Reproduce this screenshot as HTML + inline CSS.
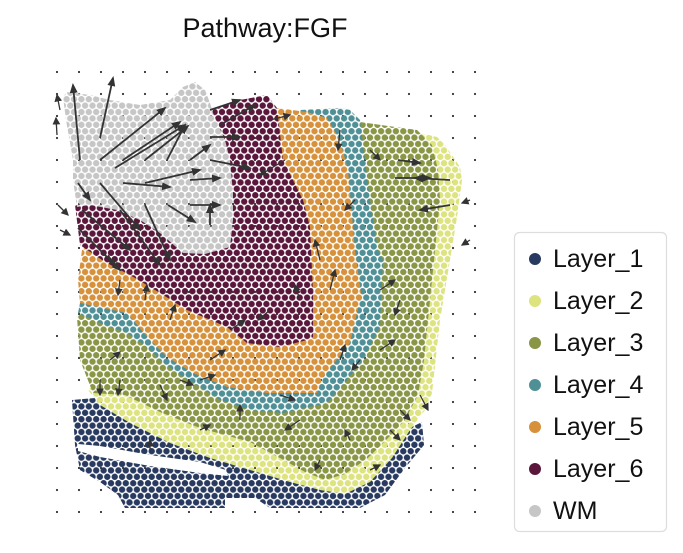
<!DOCTYPE html>
<html><head><meta charset="utf-8"><style>
html,body{margin:0;padding:0;background:#fff;}
svg{display:block;font-family:"Liberation Sans",Arial,sans-serif;}
</style></head><body>
<svg width="683" height="553" viewBox="0 0 683 553" xmlns="http://www.w3.org/2000/svg">
<defs>
<pattern id="grid" patternUnits="userSpaceOnUse" x="46" y="61" width="22" height="22">
<circle cx="11" cy="11" r="1.1" fill="#333"/>
</pattern>
<pattern id="hex" patternUnits="userSpaceOnUse" x="0" y="0" width="7.4" height="12.8">
<rect width="7.4" height="12.8" fill="#000"/>
<circle cx="3.7" cy="3.2" r="3.2" fill="#fff"/>
<circle cx="0" cy="9.6" r="3.2" fill="#fff"/>
<circle cx="7.4" cy="9.6" r="3.2" fill="#fff"/>
</pattern>
<mask id="dots"><rect width="683" height="553" fill="url(#hex)"/></mask>
<marker id="ah" markerWidth="6" markerHeight="6" refX="5" refY="3" orient="auto" markerUnits="strokeWidth">
<path d="M0,0 L6,3 L0,6 z" fill="#333"/>
</marker>
<marker id="ah2" markerWidth="10" markerHeight="8" refX="8" refY="4" orient="auto" markerUnits="userSpaceOnUse">
<path d="M0,0 L10,4 L0,8 z" fill="#333"/>
</marker>
</defs>

<text x="265" y="37" font-size="27" text-anchor="middle" fill="#111">Pathway:FGF</text>

<rect x="46" y="61" width="440" height="460" fill="url(#grid)"/>

<g mask="url(#dots)">
<polygon fill="#283a5f" points="72,400 95,398 120,405 160,425 200,440 240,455 280,468 310,478 345,482 370,470 392,450 410,428 422,422 424,445 405,468 385,495 360,508 270,508 255,498 225,498 225,508 125,508 118,495 100,482 80,470 75,445"/>
<polygon fill="#dde37e" points="88,390 100,405 130,423 170,443 210,458 250,470 290,482 320,490 345,494 370,482 392,458 410,430 425,410 432,393 440,320 450,260 457,217 462,180 460,167 445,145 437,137 400,128 360,123"/>
<polygon fill="#8a9645" points="77,317 80,360 93,393 125,395 160,412 200,428 250,442 280,458 305,472 325,480 345,474 368,458 388,438 405,420 418,395 424,360 428,320 432,280 436,240 440,200 438,170 432,145 417,130 360,122 340,122 300,200 200,300 100,300"/>
<polygon fill="#4f9097" points="80,303 78,313 100,323 127,333 147,347 160,360 177,373 200,387 220,400 250,410 283,413 327,403 347,380 363,360 380,327 383,260 378,250 370,200 360,120 350,110 340,108 300,110 200,200"/>
<polygon fill="#d6913a" points="277,108 307,112 327,118 340,140 348,170 355,250 362,300 360,300 350,343 323,377 317,393 267,393 227,387 193,373 167,357 150,340 127,313 80,303 78,280 82,250 95,240 150,250 220,230"/>
<polygon fill="#5a173b" points="213,110 240,100 267,95 277,108 283,160 303,200 310,227 313,293 313,337 307,340 280,347 247,343 227,327 187,310 160,293 130,275 105,262 80,245 75,205 120,200 180,240"/>
<polygon fill="#c6c6c6" points="63,97 67,92 90,95 110,100 140,105 170,100 183,87 195,82 205,90 210,103 213,113 225,140 230,160 233,193 233,220 230,247 205,254 183,253 160,233 140,220 117,210 90,205 77,207 73,180 73,160 66,120"/>
</g>
<polygon fill="#fff" points="78,444 100,446 150,455 200,462 226,470 228,476 200,473 150,466 100,457 78,451"/>

<g stroke="#333" stroke-width="1.8" fill="none" marker-end="url(#ah2)">
<line x1="80" y1="160" x2="73" y2="85"/>
<line x1="100" y1="138" x2="113" y2="78"/>
<line x1="100" y1="160" x2="165" y2="108"/>
<line x1="123" y1="160" x2="180" y2="122"/>
<line x1="115" y1="168" x2="185" y2="125"/>
<line x1="145" y1="160" x2="188" y2="126"/>
<line x1="167" y1="160" x2="185" y2="125"/>
<line x1="123" y1="183" x2="170" y2="187"/>
<line x1="145" y1="183" x2="200" y2="170"/>
<line x1="190" y1="160" x2="210" y2="145"/>
<line x1="190" y1="180" x2="220" y2="178"/>
<line x1="190" y1="205" x2="220" y2="205"/>
<line x1="210" y1="225" x2="210" y2="205"/>
<line x1="168" y1="205" x2="195" y2="222"/>
<line x1="78" y1="183" x2="90" y2="200"/>
<line x1="100" y1="183" x2="140" y2="230"/>
<line x1="82" y1="210" x2="130" y2="250"/>
<line x1="78" y1="228" x2="120" y2="270"/>
<line x1="120" y1="210" x2="160" y2="265"/>
<line x1="145" y1="205" x2="170" y2="260"/>
<line x1="210" y1="160" x2="250" y2="168"/>
<line x1="210" y1="137" x2="240" y2="137"/>
<line x1="210" y1="110" x2="240" y2="100"/>
<line x1="220" y1="125" x2="255" y2="105"/>
<line x1="395" y1="178" x2="430" y2="178"/>
<line x1="450" y1="180" x2="415" y2="178"/>
<line x1="450" y1="205" x2="420" y2="210"/>
<line x1="398" y1="160" x2="420" y2="163"/>
</g>
<g stroke="#333" stroke-width="1.3" fill="none" marker-end="url(#ah)">
<line x1="60" y1="110" x2="57" y2="95"/>
<line x1="57" y1="135" x2="56" y2="118"/>
<line x1="58" y1="205" x2="68" y2="215"/>
<line x1="60" y1="230" x2="70" y2="235"/>
<line x1="285" y1="160" x2="260" y2="175"/>
<line x1="270" y1="120" x2="290" y2="115"/>
<line x1="340" y1="130" x2="338" y2="150"/>
<line x1="370" y1="150" x2="380" y2="160"/>
<line x1="355" y1="200" x2="345" y2="210"/>
<line x1="320" y1="260" x2="315" y2="240"/>
<line x1="330" y1="290" x2="335" y2="270"/>
<line x1="300" y1="300" x2="295" y2="285"/>
<line x1="380" y1="290" x2="395" y2="280"/>
<line x1="380" y1="350" x2="395" y2="340"/>
<line x1="400" y1="300" x2="395" y2="315"/>
<line x1="270" y1="310" x2="258" y2="320"/>
<line x1="230" y1="330" x2="245" y2="320"/>
<line x1="210" y1="360" x2="225" y2="350"/>
<line x1="200" y1="380" x2="215" y2="375"/>
<line x1="170" y1="320" x2="175" y2="305"/>
<line x1="145" y1="300" x2="147" y2="285"/>
<line x1="120" y1="280" x2="118" y2="295"/>
<line x1="108" y1="255" x2="115" y2="265"/>
<line x1="110" y1="360" x2="120" y2="352"/>
<line x1="100" y1="380" x2="100" y2="395"/>
<line x1="120" y1="380" x2="118" y2="395"/>
<line x1="160" y1="385" x2="167" y2="400"/>
<line x1="180" y1="380" x2="193" y2="385"/>
<line x1="280" y1="395" x2="295" y2="400"/>
<line x1="300" y1="420" x2="285" y2="430"/>
<line x1="340" y1="360" x2="345" y2="345"/>
<line x1="360" y1="360" x2="352" y2="370"/>
<line x1="350" y1="440" x2="345" y2="430"/>
<line x1="390" y1="430" x2="400" y2="440"/>
<line x1="400" y1="410" x2="410" y2="420"/>
<line x1="420" y1="395" x2="428" y2="410"/>
<line x1="240" y1="420" x2="240" y2="405"/>
<line x1="200" y1="430" x2="210" y2="425"/>
<line x1="370" y1="470" x2="380" y2="465"/>
<line x1="320" y1="460" x2="315" y2="470"/>
<line x1="150" y1="450" x2="150" y2="440"/>
<line x1="470" y1="240" x2="462" y2="245"/>
<line x1="470" y1="200" x2="462" y2="203"/>
</g>

<rect x="514.5" y="232.5" width="152" height="299" rx="5" fill="#fff" stroke="#ddd" stroke-width="1.2"/>
<g font-size="25" fill="#111">
<circle cx="535" cy="259" r="6" fill="#283a5f"/><text x="553" y="267">Layer_1</text>
<circle cx="535" cy="301" r="6" fill="#dde37e"/><text x="553" y="309">Layer_2</text>
<circle cx="535" cy="343" r="6" fill="#8a9645"/><text x="553" y="351">Layer_3</text>
<circle cx="535" cy="385" r="6" fill="#4f9097"/><text x="553" y="393">Layer_4</text>
<circle cx="535" cy="427" r="6" fill="#d6913a"/><text x="553" y="435">Layer_5</text>
<circle cx="535" cy="469" r="6" fill="#5a173b"/><text x="553" y="477">Layer_6</text>
<circle cx="535" cy="511" r="6" fill="#c6c6c6"/><text x="553" y="519">WM</text>
</g>
</svg>
</body></html>
